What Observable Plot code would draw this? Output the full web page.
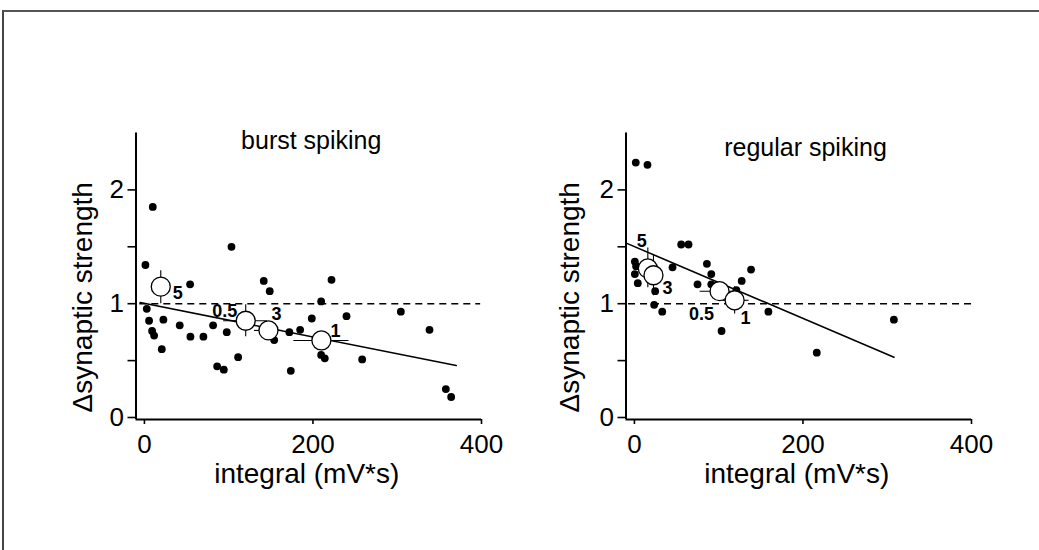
<!DOCTYPE html>
<html>
<head>
<meta charset="utf-8">
<script src="https://cdn.jsdelivr.net/npm/d3@7"></script>
<script src="https://cdn.jsdelivr.net/npm/@observablehq/plot@0.6"></script>
<style>
  html, body { margin: 0; padding: 0; background: #fff; }
  #page { position: relative; width: 1039px; height: 550px; overflow: hidden; background: #fff; }
  #border { position: absolute; left: 2px; top: 10px; right: 0; bottom: 0; border-top: 2px solid #555; border-left: 2px solid #444; }
  .panel { position: absolute; top: 0; }
</style>
</head>
<body>
<div id="page"><div id="border"></div></div>
<script>
// ---------- data ----------
const xTicks = [0, 200, 400];
const yTicks = [0, 0.5, 1, 1.5, 2];
const yTickLabels = ["0", "", "1", "", "2"];
const xLabel = "integral (mV*s)";
const yLabel = "\u0394synaptic strength";

// burst spiking
const burstTitle = "burst spiking";
const burstX = [1.2, 9.9, 2.8, 5.5, 9.1, 11.5, 20.6, 22.5, 41.9, 54.2, 54.6, 70, 81.5, 86.3, 94.2, 97.7, 103.3, 111.2, 141.6, 148.7, 154, 172, 173.7, 184.8, 198.6, 209.7, 209.7, 214, 222, 239.8, 258.4, 304.3, 338.3, 357.7, 364];
const burstY = [1.34, 1.85, 0.955, 0.85, 0.76, 0.72, 0.60, 0.86, 0.81, 1.17, 0.71, 0.71, 0.81, 0.45, 0.42, 0.75, 1.50, 0.53, 1.20, 1.11, 0.68, 0.75, 0.41, 0.77, 0.87, 1.02, 0.55, 0.52, 1.21, 0.89, 0.51, 0.93, 0.77, 0.25, 0.18];
const burstMeanLabel = ["5", "0.5", "3", "1"];
const burstMeanX = [19.4, 120.2, 147.2, 210];
const burstMeanY = [1.15, 0.85, 0.765, 0.677];
const burstMeanXLo = [16, 94, 130.6, 177.3];
const burstMeanXHi = [23, 146, 163.8, 242.7];
const burstMeanYLo = [1.00, 0.71, 0.73, 0.64];
const burstMeanYHi = [1.29, 0.99, 0.80, 0.71];
const burstFitX = [-5, 370];
const burstFitY = [1.01, 0.457];

// regular spiking
const regularTitle = "regular spiking";
const regularX = [1.6, 15.5, 0.5, 2, 0.5, 4, 24.6, 23.4, 33, 45.2, 55.5, 64.2, 74.9, 86, 91.2, 91.2, 103.4, 121, 127.3, 138.4, 159, 216.4, 307.9];
const regularY = [2.24, 2.22, 1.37, 1.33, 1.26, 1.18, 1.11, 0.99, 0.93, 1.32, 1.52, 1.52, 1.17, 1.35, 1.26, 1.17, 0.76, 1.12, 1.20, 1.30, 0.93, 0.57, 0.86];
const regularMeanLabel = ["5", "3", "0.5", "1"];
const regularMeanX = [15.9, 22.6, 101, 118.9];
const regularMeanY = [1.31, 1.25, 1.11, 1.03];
const regularMeanXLo = [13, 20, 78, 102];
const regularMeanXHi = [19, 25, 124, 136];
const regularMeanYLo = [1.14, 1.07, 1.06, 0.91];
const regularMeanYHi = [1.49, 1.43, 1.16, 1.15];
const regularFitX = [-9, 308];
const regularFitY = [1.53, 0.53];

// ---------- styling (offsets, not data) ----------
const burstLabelOffset = {"5": [17, 7], "0.5": [-21, -10], "3": [8, -16], "1": [14, -9]};
const regularLabelOffset = {"5": [-6, -27], "3": [14, 13], "0.5": [-18, 23], "1": [11, 18]};

const FONT = "'Liberation Sans', Arial, Helvetica, sans-serif";

function zipPoints(xs, ys) { return xs.map((x, i) => ({x, y: ys[i]})); }
function zipMeans(labels, xs, ys, xlo, xhi, ylo, yhi) {
  return labels.map((label, i) => ({label, x: xs[i], y: ys[i], xlo: xlo[i], xhi: xhi[i], ylo: ylo[i], yhi: yhi[i]}));
}

function panel({title, titleDx, titleDy, yLabelDx, points, means, fit, labelOffset, dashX1, dashX2}) {
  const fitData = zipPoints(fit[0], fit[1]);
  const labelMarks = means.map(m => Plot.text([m], {
    x: "x", y: "y", text: "label", fontSize: 18, fontWeight: "bold",
    textAnchor: "middle", lineAnchor: "middle",
    dx: labelOffset[m.label][0], dy: labelOffset[m.label][1]
  }));
  return Plot.plot({
    width: 520,
    height: 550,
    marginLeft: 135.5,
    marginRight: 39,
    marginTop: 132.5,
    marginBottom: 131,
    style: {fontFamily: FONT, background: "transparent", color: "#000", overflow: "visible"},
    x: {domain: [-10, 400]},
    y: {domain: [0, 2.5], insetBottom: 2},
    marks: [
      // axis lines
      Plot.ruleX([-10], {stroke: "#000", strokeWidth: 2}),
      Plot.ruleY([0], {x1: -10, x2: 400, dy: 2, stroke: "#000", strokeWidth: 2}),
      Plot.axisY(yTicks, {tickSize: 8, tickPadding: 4, fontSize: 26, label: null, strokeWidth: 1.6,
        tickFormat: d => yTickLabels[yTicks.indexOf(d)]}),
      Plot.axisX(xTicks, {tickSize: 5, tickPadding: 10, fontSize: 26, label: null, strokeWidth: 1.6}),
      // titles and labels
      Plot.text([title], {frameAnchor: "top", textAnchor: "middle", lineAnchor: "middle",
        dx: titleDx, dy: titleDy, fontSize: 25, text: d => d}),
      Plot.text([xLabel], {frameAnchor: "bottom", textAnchor: "middle", lineAnchor: "middle",
        dx: -2, dy: 55, fontSize: 28, text: d => d}),
      Plot.text([yLabel], {frameAnchor: "left", textAnchor: "middle", lineAnchor: "middle", rotate: -90,
        dx: yLabelDx, dy: 21, fontSize: 28, text: d => d}),
      // reference line
      Plot.ruleY([1], {x1: dashX1, x2: dashX2, stroke: "#000", strokeWidth: 1.4, strokeDasharray: "7,5"}),
      // scatter
      Plot.dot(points, {x: "x", y: "y", r: 3.9, fill: "#000", stroke: "none"}),
      // regression
      Plot.line(fitData, {x: "x", y: "y", stroke: "#000", strokeWidth: 1.6}),
      // mean error bars
      Plot.ruleX(means, {x: "x", y1: "ylo", y2: "yhi", stroke: "#000", strokeWidth: 1.1}),
      Plot.ruleY(means, {y: "y", x1: "xlo", x2: "xhi", stroke: "#000", strokeWidth: 1.1}),
      Plot.dot(means, {x: "x", y: "y", r: 9.5, fill: "#fff", stroke: "#000", strokeWidth: 1.3}),
      ...labelMarks
    ]
  });
}

const page = document.getElementById("page");

const left = panel({
  title: burstTitle, titleDx: 2.5, titleDy: 7.5, yLabelDx: -53,
  points: zipPoints(burstX, burstY),
  means: zipMeans(burstMeanLabel, burstMeanX, burstMeanY, burstMeanXLo, burstMeanXHi, burstMeanYLo, burstMeanYHi),
  fit: [burstFitX, burstFitY], labelOffset: burstLabelOffset, dashX1: -5.5, dashX2: 399
});
left.classList.add("panel");
left.style.left = "0px";
page.appendChild(left);

const right = panel({
  title: regularTitle, titleDx: 6.75, titleDy: 14.5, yLabelDx: -55.5,
  points: zipPoints(regularX, regularY),
  means: zipMeans(regularMeanLabel, regularMeanX, regularMeanY, regularMeanXLo, regularMeanXHi, regularMeanYLo, regularMeanYHi),
  fit: [regularFitX, regularFitY], labelOffset: regularLabelOffset, dashX1: -7, dashX2: 403
});
right.classList.add("panel");
right.style.left = "490px";
page.appendChild(right);
</script>
</body>
</html>
